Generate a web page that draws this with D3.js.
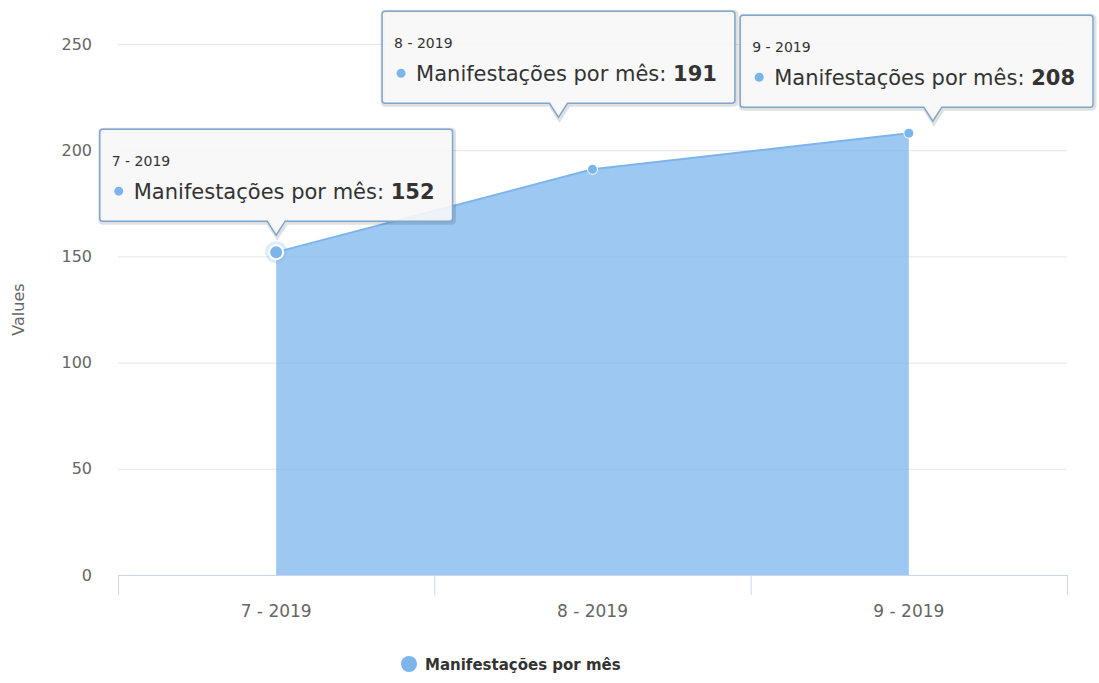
<!DOCTYPE html>
<html>
<head>
<meta charset="utf-8">
<script src="https://cdn.jsdelivr.net/npm/d3@7"></script>
<style>
  body { margin: 0; background: #fff; }
  svg { display: block; font-family: "DejaVu Sans", sans-serif; }
</style>
</head>
<body>
<svg id="chart" width="1099" height="683"></svg>
<script>
const categories = ['7 - 2019', '8 - 2019', '9 - 2019']
const values = [152, 191, 208]
const yTicks = [0, 50, 100, 150, 200, 250]
const seriesName = 'Manifestações por mês'
const yTitle = 'Values'

// tooltip placement as seen in the picture (arrow shift / lift from point)
const tipShift = [0, -34, 24]
const tipLift = [17, 52, 12]

const [width, height] = [1099, 683]
const margin = {top: 44, right: 32, bottom: 108, left: 118}
const color = '#7cb5ec'

const svg = d3.select('#chart')

const x = d3.scaleBand()
    .domain(categories)
    .range([margin.left, width - margin.right])
    .padding(0)
const y = d3.scaleLinear()
    .domain([0, 250])
    .range([height - margin.bottom, margin.top])
const cx = d => x(d) + x.bandwidth() / 2

// grid
svg.append('g')
    .selectAll('line')
    .data(yTicks.filter(t => t > 0))
    .join('line')
        .attr('x1', margin.left)
        .attr('x2', width - margin.right)
        .attr('y1', d => y(d) + 0.5)
        .attr('y2', d => y(d) + 0.5)
        .attr('stroke', '#e6e6e6')

// y axis labels
const yAxis = svg.append('g')
    .attr('transform', `translate(${margin.left - 26}, 0)`)
    .call(d3.axisLeft(y).tickValues(yTicks).tickSize(0).tickPadding(0))
yAxis.select('.domain').remove()
yAxis.selectAll('text')
    .attr('fill', '#666')
    .attr('font-size', 16)
    .attr('font-family', '"DejaVu Sans", sans-serif')

svg.append('text')
    .attr('transform', `translate(24, ${(y(0) + y(250)) / 2}) rotate(-90)`)
    .attr('text-anchor', 'middle')
    .attr('fill', '#666')
    .attr('font-size', 16)
    .text(yTitle)

// area + line
const pts = categories.map((c, i) => ({c, v: values[i]}))
svg.append('path')
    .datum(pts)
    .attr('fill', color)
    .attr('fill-opacity', 0.75)
    .attr('d', d3.area().x(d => cx(d.c)).y0(y(0)).y1(d => y(d.v)))
svg.append('path')
    .datum(pts)
    .attr('fill', 'none')
    .attr('stroke', color)
    .attr('stroke-width', 2)
    .attr('d', d3.line().x(d => cx(d.c)).y(d => y(d.v)))

// x axis
const xAxis = svg.append('g')
    .attr('transform', `translate(0, ${y(0)})`)
    .call(d3.axisBottom(x).tickSize(0).tickPadding(30))
xAxis.select('.domain').attr('stroke', '#ccd6eb')
xAxis.selectAll('text')
    .attr('fill', '#666')
    .attr('font-size', 17)
    .attr('font-family', '"DejaVu Sans", sans-serif')
const bounds = categories.map(c => x(c)).concat([width - margin.right])
svg.append('g')
    .selectAll('line')
    .data(bounds)
    .join('line')
        .attr('x1', d => d + 0.5)
        .attr('x2', d => d + 0.5)
        .attr('y1', y(0))
        .attr('y2', y(0) + 20)
        .attr('stroke', '#ccd6eb')

// markers
svg.append('circle')
    .attr('cx', cx(categories[0]))
    .attr('cy', y(values[0]))
    .attr('r', 11)
    .attr('fill', color)
    .attr('fill-opacity', 0.25)
svg.append('g')
    .selectAll('circle')
    .data(pts)
    .join('circle')
        .attr('cx', d => cx(d.c))
        .attr('cy', d => y(d.v))
        .attr('r', (d, i) => i === 0 ? 7 : 5)
        .attr('fill', color)
        .attr('stroke', '#fff')
        .attr('stroke-width', (d, i) => i === 0 ? 2 : 1)

// tooltips
const boxH = 92, arrowH = 14
pts.forEach((d, i) => {
    const ax = cx(d.c) + tipShift[i]
    const tipY = y(d.v) - tipLift[i]
    const g = svg.append('g')
    const header = g.append('text').attr('font-size', 14).attr('fill', '#333').text(d.c)
    const body = g.append('text').attr('font-size', 21).attr('fill', '#333')
    body.append('tspan').text(seriesName + ': ')
    body.append('tspan').attr('font-weight', 'bold').text(d.v)
    const w = body.node().getComputedTextLength() + 52
    const left = Math.min(ax - w / 2, width - 6 - w)
    const bottom = tipY - arrowH
    const top = bottom - boxH
    const r = 3
    const p = `M${left + r},${top} H${left + w - r} Q${left + w},${top} ${left + w},${top + r}
        V${bottom - r} Q${left + w},${bottom} ${left + w - r},${bottom}
        H${ax + 9} L${ax},${tipY} L${ax - 9},${bottom} H${left + r}
        Q${left},${bottom} ${left},${bottom - r} V${top + r} Q${left},${top} ${left + r},${top} Z`
    g.insert('path', 'text').attr('d', p)
        .attr('transform', 'translate(1,1)')
        .attr('fill', 'none').attr('stroke', 'rgba(0,0,0,0.12)').attr('stroke-width', 5)
    g.insert('path', 'text').attr('d', p)
        .attr('fill', 'rgba(247,247,247,0.9)')
        .attr('stroke', '#7fa6cc').attr('stroke-width', 1.5)
    header.attr('x', left + 12).attr('y', top + 37)
    g.append('circle').attr('cx', left + 19).attr('cy', top + 62).attr('r', 4.5).attr('fill', color)
    body.attr('x', left + 34).attr('y', top + 70)
})

// legend
const lg = svg.append('g')
const lx = 425
lg.append('text')
    .attr('x', lx)
    .attr('y', 670)
    .attr('font-size', 15)
    .attr('font-weight', 'bold')
    .attr('fill', '#333')
    .text(seriesName)
lg.append('circle').attr('cx', lx - 16).attr('cy', 664).attr('r', 8).attr('fill', color)
</script>
</body>
</html>
